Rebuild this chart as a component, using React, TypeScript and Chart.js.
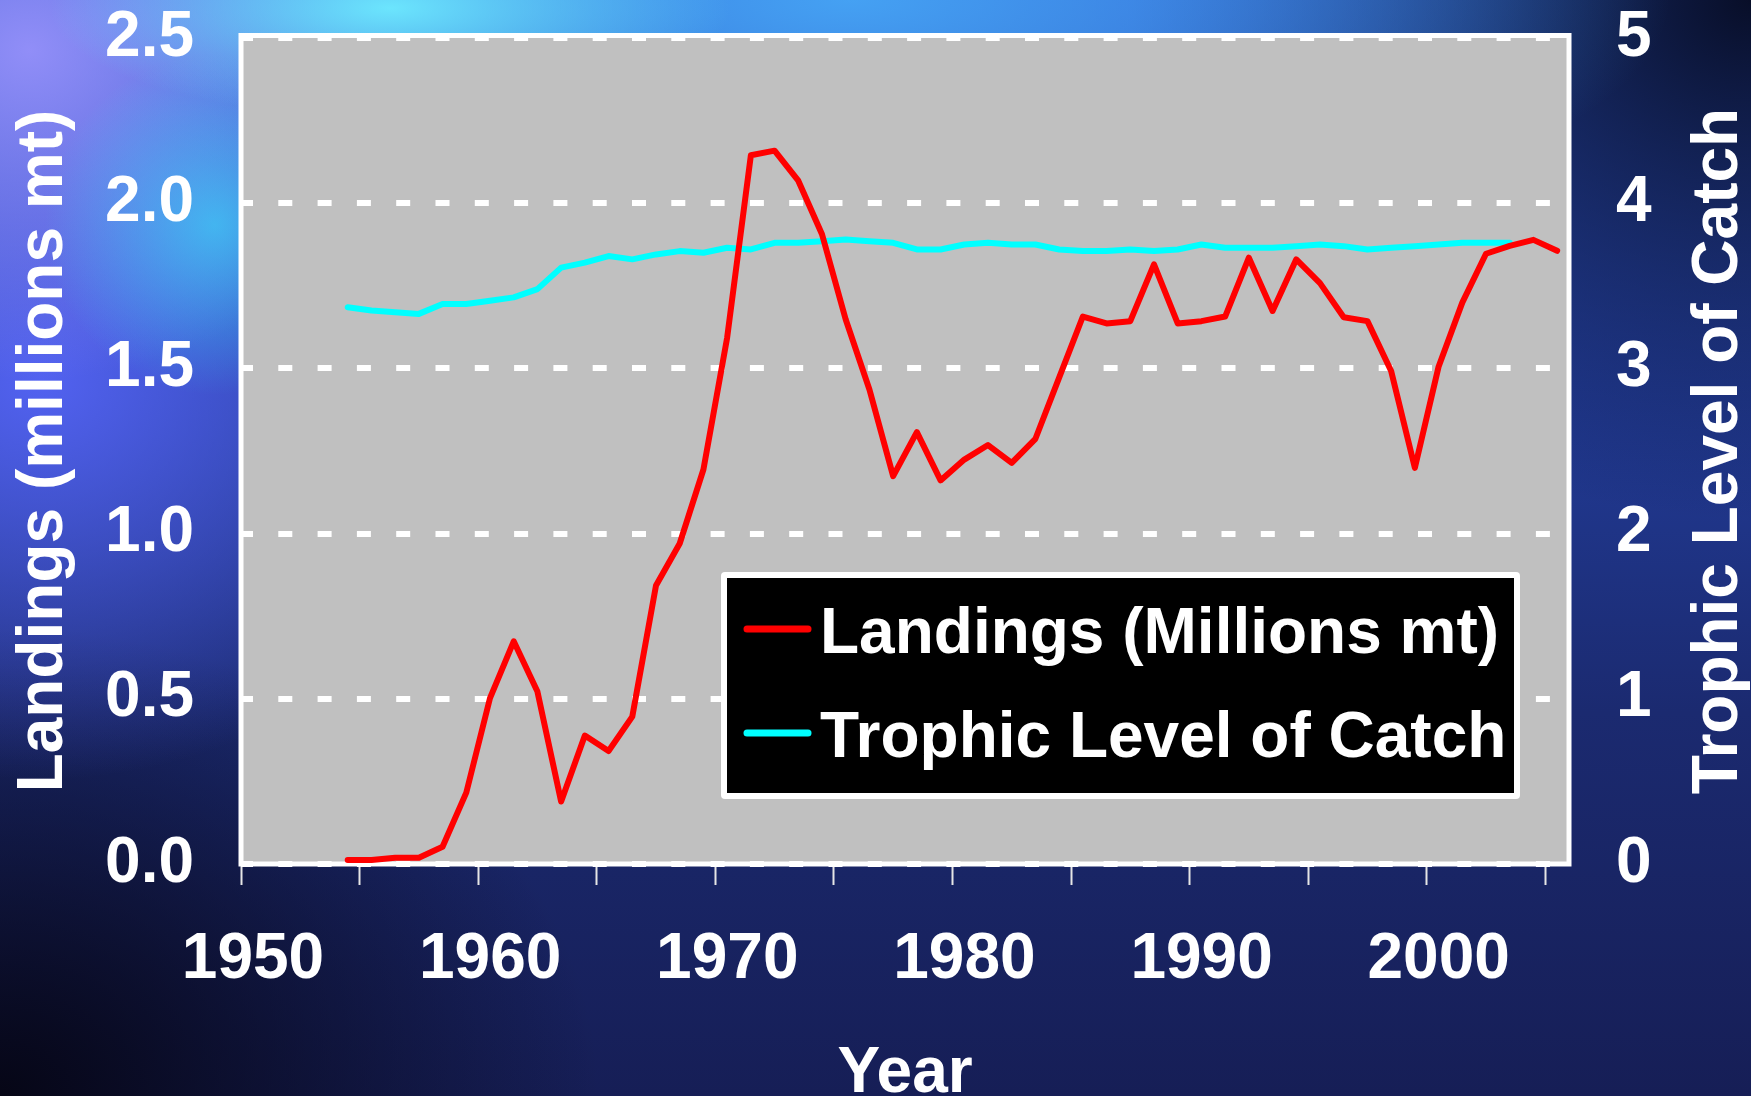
import { useEffect, useRef } from 'react';
import { Chart, registerables } from 'chart.js';

Chart.register(...registerables);

const W = 1751;
const H = 1096;

// Annual landings (millions of metric tons)
const landingYears = [
  1954, 1955, 1956, 1957, 1958, 1959, 1960, 1961, 1962, 1963,
  1964, 1965, 1966, 1967, 1968, 1969, 1970, 1971, 1972, 1973,
  1974, 1975, 1976, 1977, 1978, 1979, 1980, 1981, 1982, 1983,
  1984, 1985, 1986, 1987, 1988, 1989, 1990, 1991, 1992, 1993,
  1994, 1995, 1996, 1997, 1998, 1999, 2000, 2001, 2002, 2003,
  2004, 2005,
];
const landings = [
  0.012, 0.012, 0.019, 0.019, 0.052, 0.216, 0.502, 0.674, 0.522, 0.189,
  0.389, 0.342, 0.446, 0.843, 0.970, 1.194, 1.593, 2.145, 2.159, 2.068,
  1.906, 1.648, 1.436, 1.174, 1.307, 1.161, 1.224, 1.268, 1.214, 1.287,
  1.472, 1.657, 1.636, 1.643, 1.815, 1.636, 1.643, 1.657, 1.835, 1.674,
  1.830, 1.758, 1.655, 1.643, 1.492, 1.199, 1.505, 1.699, 1.847, 1.871,
  1.889, 1.856,
];

// Mean trophic level of the catch
const trophicYears = [
  1954, 1955, 1956, 1957, 1958, 1959, 1960, 1961, 1962, 1963,
  1964, 1965, 1966, 1967, 1968, 1969, 1970, 1971, 1972, 1973,
  1974, 1975, 1976, 1977, 1978, 1979, 1980, 1981, 1982, 1983,
  1984, 1985, 1986, 1987, 1988, 1989, 1990, 1991, 1992, 1993,
  1994, 1995, 1996, 1997, 1998, 1999, 2000, 2001, 2002, 2003,
];
const trophicLevel = [
  3.37, 3.35, 3.34, 3.33, 3.39, 3.39, 3.41, 3.43, 3.48, 3.61,
  3.64, 3.68, 3.66, 3.69, 3.71, 3.70, 3.73, 3.72, 3.76, 3.76,
  3.77, 3.78, 3.77, 3.76, 3.72, 3.72, 3.75, 3.76, 3.75, 3.75,
  3.72, 3.71, 3.71, 3.72, 3.71, 3.72, 3.75, 3.73, 3.73, 3.73,
  3.74, 3.75, 3.74, 3.72, 3.73, 3.74, 3.75, 3.76, 3.76, 3.76,
];

// Axis ticks and labels
const yearTicks = [1950, 1955, 1960, 1965, 1970, 1975, 1980, 1985, 1990, 1995, 2000, 2005];
const labeledYears = [1950, 1960, 1970, 1980, 1990, 2000];
const landingsTicks = [0, 0.5, 1, 1.5, 2, 2.5];
const trophicTicks = [0, 1, 2, 3, 4, 5];

const seriesNames = ['Landings (Millions mt)', 'Trophic Level of Catch'];
const seriesColors = ['#ff0000', '#00ffff'];
const leftTitle = 'Landings (millions mt)';
const rightTitle = 'Trophic Level of Catch';
const bottomTitle = 'Year';

const FAMILY = '"Liberation Sans", Arial, Helvetica, sans-serif';
const FONT_SIZE = 64;
const FONT = `bold ${FONT_SIZE}px ${FAMILY}`;

const BACKGROUND = [
  'radial-gradient(ellipse 340px 110px at 390px 8px, rgba(110,235,255,0.95), rgba(110,235,255,0) 100%)',
  'radial-gradient(circle 170px at 215px 225px, rgba(60,215,250,0.7), rgba(60,215,250,0) 100%)',
  'radial-gradient(ellipse 380px 330px at 30px 50px, rgba(150,145,250,0.95), rgba(150,145,250,0) 100%)',
  'radial-gradient(ellipse 820px 260px at 850px 0px, rgba(70,165,245,0.95), rgba(70,165,245,0) 100%)',
  'radial-gradient(ellipse 460px 400px at 40px 380px, rgba(85,100,245,0.95), rgba(85,100,245,0) 100%)',
  'radial-gradient(ellipse 600px 470px at 0px 1096px, rgba(6,6,22,1), rgba(6,6,22,0) 100%)',
  'radial-gradient(ellipse 620px 520px at 1751px 0px, rgba(8,14,40,1), rgba(8,14,40,0) 100%)',
  'linear-gradient(180deg, #2f58cc 0%, #223c98 35%, #1b2a70 65%, #161e56 100%)',
].join(', ');

// Grey plot background behind the grid, white frame over it
const plotFrame = {
  id: 'plotFrame',
  beforeDraw(chart: any) {
    const { ctx, chartArea: a } = chart;
    ctx.save();
    ctx.fillStyle = '#c0c0c0';
    ctx.fillRect(a.left, a.top - 2, a.right - a.left, a.bottom - a.top + 2);
    ctx.restore();
  },
  beforeDatasetsDraw(chart: any) {
    const { ctx, chartArea: a } = chart;
    ctx.save();
    ctx.strokeStyle = '#ffffff';
    ctx.lineWidth = 5;
    ctx.strokeRect(a.left, a.top - 2.5, a.right - a.left, a.bottom - a.top + 2.5);
    ctx.restore();
  },
};

// Boxed legend inside the plot area
const boxedLegend = {
  id: 'boxedLegend',
  afterDatasetsDraw(chart: any) {
    const { ctx, chartArea: a } = chart;
    const x0 = a.left + 480;
    const y0 = a.top + 534;
    const w = 799;
    const h = 227;
    ctx.save();
    ctx.fillStyle = '#ffffff';
    ctx.beginPath();
    ctx.roundRect(x0, y0, w, h, 4);
    ctx.fill();
    ctx.fillStyle = '#000000';
    ctx.fillRect(x0 + 6, y0 + 6, w - 12, h - 12);
    ctx.font = FONT;
    ctx.textAlign = 'left';
    ctx.textBaseline = 'alphabetic';
    chart.data.datasets.forEach((ds: any, i: number) => {
      const rowY = y0 + 57 + i * 104;
      ctx.strokeStyle = ds.borderColor;
      ctx.lineWidth = 7;
      ctx.lineCap = 'round';
      ctx.beginPath();
      ctx.moveTo(x0 + 26, rowY);
      ctx.lineTo(x0 + 87, rowY);
      ctx.stroke();
      ctx.fillStyle = '#ffffff';
      ctx.fillText(ds.label, x0 + 99, rowY + 24);
    });
    ctx.restore();
  },
};

// Axis titles (both side titles read bottom-to-top)
const axisTitles = {
  id: 'axisTitles',
  afterDraw(chart: any) {
    const { ctx, chartArea: a } = chart;
    const midY = (a.top + a.bottom) / 2;
    ctx.save();
    ctx.fillStyle = '#ffffff';
    ctx.font = FONT;
    ctx.textAlign = 'center';
    ctx.textBaseline = 'alphabetic';

    ctx.save();
    ctx.translate(62, midY);
    ctx.rotate(-Math.PI / 2);
    ctx.fillText(leftTitle, 0, 0);
    ctx.restore();

    ctx.save();
    ctx.translate(1737, midY);
    ctx.rotate(-Math.PI / 2);
    ctx.fillText(rightTitle, 0, 0);
    ctx.restore();

    ctx.fillText(bottomTitle, (a.left + a.right) / 2, 1092);
    ctx.restore();
  },
};

// Fixed axis sizes so the plot area lands where the layout expects it
const fixSize = (size: { width?: number; height?: number }) => (s: any) => {
  if (size.width !== undefined) s.width = size.width;
  if (size.height !== undefined) s.height = size.height;
  s.paddingTop = 0;
  s.paddingBottom = 0;
  s.paddingLeft = 0;
  s.paddingRight = 0;
};

export default function App() {
  const canvasRef = useRef<HTMLCanvasElement>(null);

  useEffect(() => {
    const canvas = canvasRef.current;
    if (!canvas) return;

    const tickFont = { family: FAMILY, size: FONT_SIZE, weight: 'bold' as const };

    const chart = new Chart(canvas, {
      type: 'line',
      data: {
        datasets: [
          {
            label: seriesNames[0],
            data: landingYears.map((yr, i) => ({ x: yr + 0.5, y: landings[i] })),
            borderColor: seriesColors[0],
            backgroundColor: seriesColors[0],
            borderWidth: 6,
            borderCapStyle: 'round',
            borderJoinStyle: 'round',
            pointRadius: 0,
            tension: 0,
            yAxisID: 'y',
          },
          {
            label: seriesNames[1],
            data: trophicYears.map((yr, i) => ({ x: yr + 0.5, y: trophicLevel[i] })),
            borderColor: seriesColors[1],
            backgroundColor: seriesColors[1],
            borderWidth: 6,
            borderCapStyle: 'round',
            borderJoinStyle: 'round',
            pointRadius: 0,
            tension: 0,
            yAxisID: 'y2',
          },
        ],
      },
      options: {
        responsive: false,
        maintainAspectRatio: false,
        devicePixelRatio: 1,
        animation: false,
        events: [],
        layout: { padding: { top: 38, left: 0, right: 0, bottom: 0 } },
        plugins: {
          legend: { display: false },
          tooltip: { enabled: false },
        },
        scales: {
          x: {
            type: 'linear',
            position: 'bottom',
            min: 1950,
            max: 2006,
            afterBuildTicks: (s: any) => {
              s.ticks = yearTicks.map((v) => ({ value: v }));
            },
            afterFit: fixSize({ height: 232 }),
            grid: {
              display: true,
              drawOnChartArea: false,
              drawTicks: true,
              tickLength: 21,
              tickWidth: 2,
              tickColor: '#e6e6e6',
              color: 'rgba(0,0,0,0)',
            },
            border: { display: false },
            ticks: {
              color: '#ffffff',
              font: tickFont,
              padding: 37,
              labelOffset: 12,
              maxRotation: 0,
              minRotation: 0,
              autoSkip: false,
              callback: (v: any) => (labeledYears.includes(Number(v)) ? String(v) : ''),
            },
          },
          y: {
            type: 'linear',
            position: 'left',
            min: 0,
            max: 2.5,
            afterBuildTicks: (s: any) => {
              s.ticks = landingsTicks.map((v) => ({ value: v }));
            },
            afterFit: fixSize({ width: 241 }),
            grid: {
              color: '#ffffff',
              lineWidth: 6,
              drawTicks: false,
            },
            border: { display: false, dash: [14, 25.3], dashOffset: 2 },
            ticks: {
              color: '#ffffff',
              font: tickFont,
              padding: 47,
              callback: (v: any) => Number(v).toFixed(1),
            },
          },
          y2: {
            type: 'linear',
            position: 'right',
            min: 0,
            max: 5,
            afterBuildTicks: (s: any) => {
              s.ticks = trophicTicks.map((v) => ({ value: v }));
            },
            afterFit: fixSize({ width: 182 }),
            grid: { display: false, drawTicks: false, drawOnChartArea: false },
            border: { display: false },
            ticks: {
              color: '#ffffff',
              font: tickFont,
              padding: 47,
              callback: (v: any) => String(v),
            },
          },
        },
      },
      plugins: [plotFrame, boxedLegend, axisTitles],
    } as any);

    return () => chart.destroy();
  }, []);

  return (
    <div
      style={{
        position: 'fixed',
        left: 0,
        top: 0,
        width: W,
        height: H,
        overflow: 'hidden',
        background: BACKGROUND,
      }}
    >
      <canvas ref={canvasRef} width={W} height={H} style={{ display: 'block', width: W, height: H }} />
    </div>
  );
}
